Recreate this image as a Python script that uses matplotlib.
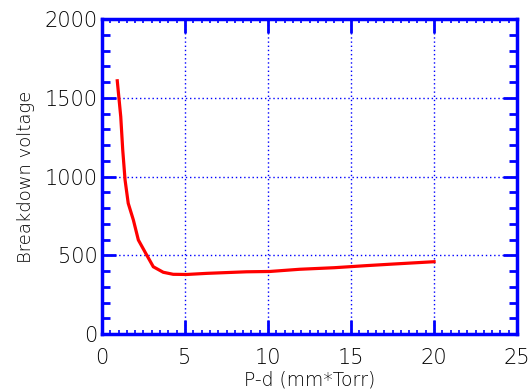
import matplotlib
matplotlib.use("Agg")
import matplotlib.pyplot as plt
from matplotlib.ticker import MultipleLocator

pd_vals = [0.92, 1.13, 1.25, 1.39, 1.58, 1.89, 2.19, 2.69, 3.09, 3.69, 4.29, 5.1,
           6.3, 8.7, 10.1, 11.9, 14.0, 15.9, 17.5, 20.0]
voltage = [1608, 1380, 1168, 978, 830, 724, 597, 502, 427, 392, 379, 378,
           385, 395, 397, 411, 421, 434, 444, 459]

blue = "#0000ff"
fig = plt.figure(figsize=(5.32, 3.89), dpi=100)
ax = fig.add_axes([0.1917, 0.1414, 0.7803, 0.8096])
ax.plot(pd_vals, voltage, color="#ff0000", lw=2.3, solid_joinstyle="miter")
ax.set_xlim(0, 25)
ax.set_ylim(0, 2000)
ax.xaxis.set_major_locator(MultipleLocator(5))
ax.xaxis.set_minor_locator(MultipleLocator(0.5))
ax.yaxis.set_major_locator(MultipleLocator(500))
ax.yaxis.set_minor_locator(MultipleLocator(100))
ax.grid(True, which="major", color=blue, linestyle=(0, (1, 2)), lw=1.0)
for s in ax.spines.values():
    s.set_color(blue)
    s.set_linewidth(2.5)
ax.tick_params(which="major", direction="in", length=10, width=2, color=blue,
               top=True, right=True, labelsize=15, labelcolor="black")
ax.tick_params(axis="x", which="major", pad=10)
ax.tick_params(axis="y", which="major", pad=3)
ax.tick_params(which="minor", direction="in", length=3, width=1.2, color=blue,
               top=True, right=True)
ax.tick_params(axis="y", which="minor", length=6, width=2)
for lab in ax.get_xticklabels() + ax.get_yticklabels():
    lab.set_fontweight("light")
ax.set_xlabel("P-d (mm*Torr)", fontsize=13.5, labelpad=2, fontweight="light")
ax.set_ylabel("Breakdown voltage", fontsize=13, labelpad=7, fontweight="light")
fig.savefig("out.png", dpi=100)
